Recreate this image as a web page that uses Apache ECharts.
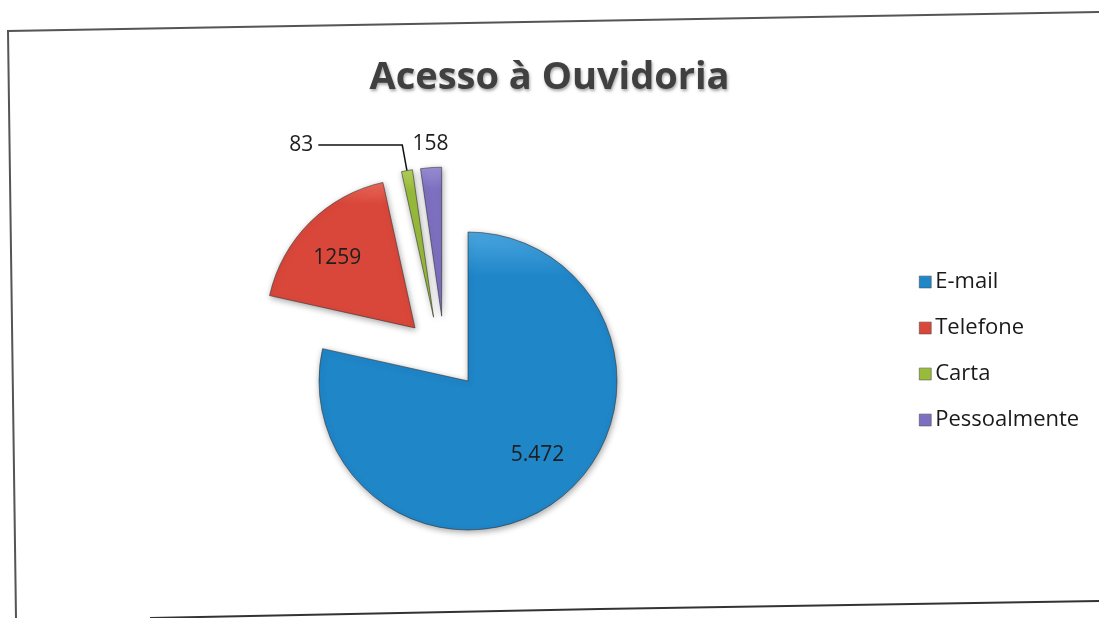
<!DOCTYPE html>
<html>
<head>
<meta charset="utf-8">
<title>Acesso à Ouvidoria</title>
<script src="https://cdn.jsdelivr.net/npm/echarts@6/dist/echarts.min.js"></script>
<style>
  html, body { margin: 0; padding: 0; background: #fff; }
  #chart { width: 1099px; height: 618px; }
</style>
</head>
<body>
<div id="chart"></div>
<script>
// dados
const categorias = ['E-mail', 'Telefone', 'Carta', 'Pessoalmente']
const valores = [5472, 1259, 83, 158]
const rotulos = ['5.472', '1259', '83', '158']

const cores = [
  ['#4aa6e0', '#1f86c8'],
  ['#ec6a5c', '#d9473a'],
  ['#b4d35a', '#98bb3c'],
  ['#9b8fd6', '#7d70c0']
]

const grad = c => ({
  type: 'linear', x: 0, y: 0, x2: 0, y2: 1,
  colorStops: [
    { offset: 0, color: c[0] },
    { offset: 0.15, color: c[1] },
    { offset: 1, color: c[1] }
  ]
})

const chart = echarts.init(document.getElementById('chart'))

// fatias grandes na 1a serie, fatias finas (Carta, Pessoalmente) na 2a
const grupo = [0, 0, 1, 1]
const centros = [[468, 381], [447, 391]]

// ajuste dos rótulos
const labelShift = [
  { dx: 21, dy: 14 },
  { dx: -23, dy: -15 },
  {},
  { dx: 5, dy: -16, align: 'center' }
]

const fonte = 'Open Sans'

const makeSeries = g => ({
  type: 'pie',
  center: centros[g],
  radius: 149,
  startAngle: 90,
  clockwise: true,
  selectedMode: 'multiple',
  selectedOffset: 75,
  avoidLabelOverlap: false,
  emphasis: { disabled: true },
  silent: true,
  label: {
    fontFamily: fonte,
    fontSize: 21,
    color: '#1e1e1e'
  },
  labelLayout: function (params) {
    return labelShift[params.dataIndex] || {}
  },
  data: categorias.map((nome, i) => {
    const vis = grupo[i] === g
    return {
      name: nome,
      value: valores[i],
      selected: i > 0,
      itemStyle: vis ? {
        color: grad(cores[i]),
        borderColor: 'rgba(40,40,40,0.55)',
        borderWidth: 1,
        shadowColor: 'rgba(0,0,0,0.35)',
        shadowBlur: 6,
        shadowOffsetX: 1,
        shadowOffsetY: 2
      } : { color: 'rgba(0,0,0,0)', borderWidth: 0 },
      label: {
        show: vis,
        position: i < 2 ? 'inside' : 'outside',
        formatter: rotulos[i]
      },
      labelLine: {
        show: vis && i === 2,
        length: i === 2 ? 26 : 8,
        length2: i === 2 ? 84 : 0,
        lineStyle: { color: '#111', width: 1.5 }
      }
    }
  })
})

const option = {
  backgroundColor: '#fff',
  animation: false,
  title: {
    text: 'Acesso à Ouvidoria',
    left: 'center',
    top: 54,
    textStyle: {
      fontFamily: fonte,
      fontWeight: 'bold',
      fontSize: 38,
      color: '#404040',
      textShadowColor: 'rgba(0,0,0,0.35)',
      textShadowBlur: 3,
      textShadowOffsetX: 1,
      textShadowOffsetY: 2
    }
  },
  legend: {
    orient: 'vertical',
    left: 914,
    top: 266,
    icon: 'rect',
    itemWidth: 12,
    itemHeight: 12,
    itemGap: 24,
    selectedMode: false,
    textStyle: {
      fontFamily: fonte,
      fontSize: 22,
      color: '#1a1a1a',
      padding: [0, 0, 0, -1]
    },
    data: categorias.map((nome, i) => ({
      name: nome,
      itemStyle: { color: grad(cores[i]), borderColor: '#444', borderWidth: 0.5 }
    }))
  },
  graphic: [
    {
      type: 'polyline',
      shape: { points: [[1099, 12], [8, 31], [16, 618]] },
      style: { stroke: '#555', lineWidth: 2, fill: null }
    },
    {
      type: 'polyline',
      shape: { points: [[150, 618], [600, 609], [1099, 601]] },
      style: { stroke: '#333', lineWidth: 2, fill: null }
    }
  ],
  series: [makeSeries(0), makeSeries(1)]
}

chart.setOption(option)
</script>
</body>
</html>
